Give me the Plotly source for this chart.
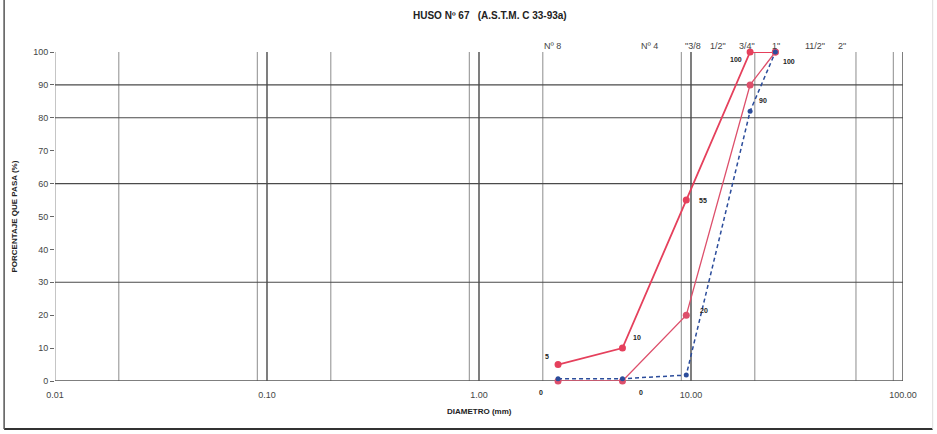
import numpy as np
import plotly.graph_objects as go

# ---- data ----
sizes_mm = [2.36, 4.75, 9.5, 19.0, 25.0]
upper = [5, 10, 55, 100, 100]
lower = [0, 0, 20, 90, 100]
sample = [0.7, 0.7, 1.8, 82, 100]

sieve_labels = ["Nº 8", "Nº 4", "\"3/8", "1/2\"", "3/4\"", "1\"", "11/2\"", "2\""]
sieve_label_mm = [2.21, 6.4, 10.2, 13.4, 18.4, 25.2, 38.4, 51.5]

x_tickvals = [0.01, 0.1, 1, 10, 100]
x_ticktext = ["0.01", "0.10", "1.00", "10.00", "100.00"]
y_tickvals = list(range(0, 101, 10))

vgrid_major = [0.1, 1, 10, 100]
vgrid_minor = [0.01, 0.02, 0.09, 0.2, 0.9, 2, 9, 20, 60, 90]
hgrid = [30, 60, 80, 90]

# ---- style ----
FONT = "Liberation Sans Narrow, Arial Narrow, Liberation Sans, Arial, sans-serif"
RED_U = "#e5405c"
RED_L = "#dd4f6b"
BLUE = "#2b4c9b"

fig = go.Figure()

def vlines(vals):
    xs, ys = [], []
    for v in vals:
        xs += [v, v, None]
        ys += [0, 100, None]
    return xs, ys

def hlines(vals):
    xs, ys = [], []
    for v in vals:
        xs += [0.01, 100, None]
        ys += [v, v, None]
    return xs, ys

xs, ys = vlines(vgrid_minor)
fig.add_trace(go.Scatter(x=xs, y=ys, mode="lines", line=dict(color="#8c8c8c", width=1),
                         hoverinfo="skip", showlegend=False))
xs, ys = vlines(vgrid_major)
fig.add_trace(go.Scatter(x=xs, y=ys, mode="lines", line=dict(color="#3a3a3a", width=1.3),
                         hoverinfo="skip", showlegend=False))
xs, ys = hlines(hgrid)
fig.add_trace(go.Scatter(x=xs, y=ys, mode="lines", line=dict(color="#4a4a4a", width=1.1),
                         hoverinfo="skip", showlegend=False))
xs, ys = hlines([0])
fig.add_trace(go.Scatter(x=xs, y=ys, mode="lines", line=dict(color="#555555", width=1.3),
                         hoverinfo="skip", showlegend=False))

fig.add_trace(go.Scatter(x=sizes_mm, y=upper, mode="lines+markers", name="Límite superior",
                         line=dict(color=RED_U, width=1.8),
                         marker=dict(color=RED_U, size=7), cliponaxis=False, showlegend=False))
fig.add_trace(go.Scatter(x=sizes_mm, y=lower, mode="lines+markers", name="Límite inferior",
                         line=dict(color=RED_L, width=1.3),
                         marker=dict(color=RED_L, size=7), cliponaxis=False, showlegend=False))
fig.add_trace(go.Scatter(x=sizes_mm, y=sample, mode="lines+markers", name="Muestra",
                         line=dict(color=BLUE, width=1.5, dash="4px,3px"),
                         marker=dict(color=BLUE, size=5), cliponaxis=False, showlegend=False))

# point value labels (offsets in pixels)
upper_offsets = [(-11, 8), (15, 11), (17, 0), (-14, -7), None]
lower_offsets = [(-17, -11), (19, -11), (18, 5), (13, -16), (14, -9)]
for vals, offs in ((upper, upper_offsets), (lower, lower_offsets)):
    for xv, yv, off in zip(sizes_mm, vals, offs):
        if off is None:
            continue
        fig.add_annotation(x=np.log10(xv), y=yv, xref="x", yref="y", text="<b>%d</b>" % yv,
                           showarrow=False, xshift=off[0], yshift=off[1],
                           font=dict(family=FONT, size=7, color="#222222"))

# sieve labels along the top
for lab, mm in zip(sieve_labels, sieve_label_mm):
    fig.add_annotation(x=np.log10(mm), y=1, xref="x", yref="paper", text=lab,
                       showarrow=False, yanchor="bottom", yshift=-1,
                       font=dict(family=FONT, size=9, color="#444444"))

# title
fig.add_annotation(x=0.513, y=1, xref="paper", yref="paper", yshift=37,
                   text="<b>HUSO Nº 67&nbsp;&nbsp;&nbsp;(A.S.T.M. C 33-93a)</b>",
                   showarrow=False, font=dict(family=FONT, size=10, color="#222222"),
                   xanchor="center", yanchor="middle")

# axis titles
fig.add_annotation(x=0.501, y=0, xref="paper", yref="paper", yshift=-30,
                   text="<b>DIAMETRO (mm)</b>", showarrow=False,
                   font=dict(family=FONT, size=8, color="#222222"),
                   xanchor="center", yanchor="middle")
fig.add_annotation(x=0, y=0.5, xref="paper", yref="paper", xshift=-41,
                   text="<b>PORCENTAJE QUE PASA (%)</b>", showarrow=False, textangle=-90,
                   font=dict(family=FONT, size=8, color="#222222"),
                   xanchor="center", yanchor="middle")

# page frame
frame = [(-0.060, -0.146, 1.035, -0.146, "#333333", 2),
         (-0.060, -0.146, -0.060, 1.17, "#555555", 1.5),
         (1.035, -0.146, 1.035, 1.17, "#dddddd", 1)]
for x0, y0, x1, y1, c, w in frame:
    fig.add_shape(type="line", xref="paper", yref="paper", x0=x0, y0=y0, x1=x1, y1=y1,
                  line=dict(color=c, width=w))

fig.update_xaxes(type="log", range=[-2, 2], tickvals=x_tickvals, ticktext=x_ticktext,
                 showgrid=False, zeroline=False, showline=False,
                 ticks="outside", ticklen=5, tickcolor="rgba(0,0,0,0)",
                 tickfont=dict(family=FONT, size=9, color="#444444"))
fig.update_yaxes(range=[0, 100], tickvals=y_tickvals, showgrid=False, zeroline=False,
                 showline=False, ticks="outside", ticklen=4, tickcolor="#666666",
                 tickfont=dict(family=FONT, size=9, color="#444444"))

fig.update_layout(width=937, height=434, margin=dict(l=55, r=34, t=52, b=53),
                  plot_bgcolor="white", paper_bgcolor="white", showlegend=False)

fig.write_html("out.html", config={"displayModeBar": False},
               post_script="document.body.style.margin='0px';")
